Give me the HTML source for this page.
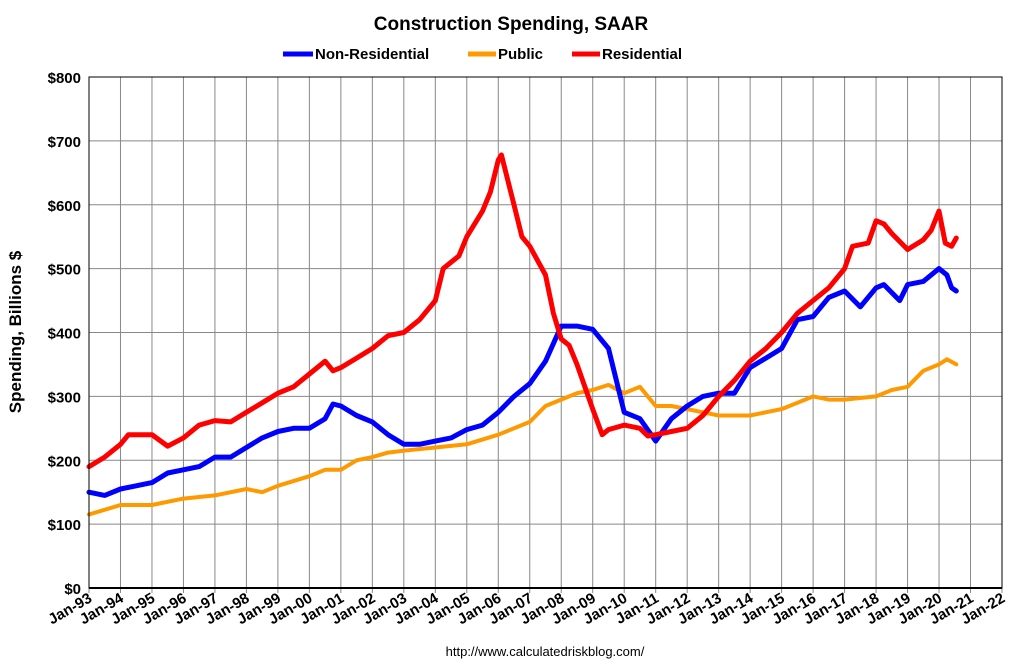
<!DOCTYPE html>
<html><head><meta charset="utf-8"><style>
body{margin:0;background:#fff;width:1022px;height:665px;overflow:hidden;font-family:"Liberation Sans",Arial,sans-serif}
</style></head><body>
<svg id="chart" width="1022" height="665" xmlns="http://www.w3.org/2000/svg" font-family="Liberation Sans, Arial, sans-serif">
<text x="511" y="30" text-anchor="middle" font-size="19" font-weight="bold">Construction Spending, SAAR</text>
<g font-size="15" font-weight="bold">
<g><line x1="283" y1="54" x2="313" y2="54" stroke="#0000ff" stroke-width="5"/><text x="315" y="59">Non-Residential</text></g>
<g><line x1="468" y1="54" x2="496" y2="54" stroke="#ff9900" stroke-width="5"/><text x="498" y="59">Public</text></g>
<g><line x1="572" y1="54" x2="600" y2="54" stroke="#ff0000" stroke-width="5"/><text x="602" y="59">Residential</text></g>
</g>
<text transform="translate(21,332) rotate(-90)" text-anchor="middle" font-size="17" font-weight="bold">Spending, Billions $</text>
<text x="545" y="656" text-anchor="middle" font-size="13">http://www.calculatedriskblog.com/</text>
<g id="grid"></g><g id="series"></g><g id="axes"></g>
</svg>
<script>
const yTicks=[0,100,200,300,400,500,600,700,800];
const xYears=[];for(let y=1993;y<=2022;y++)xYears.push(y);
const resX=[1993,1993.5,1994,1994.25,1994.5,1995,1995.5,1996,1996.5,1997,1997.5,1998,1998.5,1999,1999.5,2000,2000.5,2000.75,2001,2001.5,2002,2002.5,2003,2003.5,2004,2004.25,2004.75,2005,2005.5,2005.75,2006,2006.1,2006.5,2006.75,2007,2007.5,2007.75,2008,2008.25,2008.5,2009,2009.3,2009.5,2010,2010.5,2010.75,2011,2011.5,2012,2012.5,2013,2013.5,2014,2014.5,2015,2015.5,2016,2016.5,2017,2017.25,2017.75,2018,2018.25,2018.5,2019,2019.5,2019.75,2020,2020.2,2020.4,2020.55];
const resY=[190,205,225,240,240,240,222,235,255,262,260,275,290,305,315,335,355,340,345,360,375,395,400,420,450,500,520,550,590,620,670,678,600,550,535,490,430,390,380,350,280,240,248,255,250,238,240,245,250,270,300,325,355,375,400,430,450,470,500,535,540,575,570,555,530,545,560,590,540,535,548];
const nonX=[1993,1993.5,1994,1994.5,1995,1995.5,1996,1996.5,1997,1997.5,1998,1998.5,1999,1999.5,2000,2000.5,2000.75,2001,2001.5,2002,2002.5,2003,2003.5,2004,2004.5,2005,2005.5,2006,2006.5,2007,2007.5,2008,2008.5,2009,2009.5,2010,2010.5,2011,2011.5,2012,2012.5,2013,2013.5,2014,2014.5,2015,2015.5,2016,2016.5,2017,2017.5,2018,2018.25,2018.75,2019,2019.5,2020,2020.25,2020.4,2020.55];
const nonY=[150,145,155,160,165,180,185,190,205,205,220,235,245,250,250,265,288,285,270,260,240,225,225,230,235,248,255,275,300,320,355,410,410,405,375,275,265,230,265,285,300,305,305,345,360,375,420,425,455,465,440,470,475,450,475,480,500,490,470,465];
const pubX=[1993,1994,1995,1996,1997,1998,1998.5,1999,2000,2000.5,2001,2001.5,2002,2002.5,2003,2004,2005,2006,2007,2007.5,2008,2008.5,2009,2009.5,2010,2010.5,2011,2011.5,2012,2012.5,2013,2014,2015,2015.5,2016,2016.5,2017,2018,2018.5,2019,2019.5,2020,2020.25,2020.55];
const pubY=[115,130,130,140,145,155,150,160,175,185,185,200,205,212,215,220,225,240,260,285,295,305,310,318,305,315,285,285,280,275,270,270,280,290,300,295,295,300,310,315,340,350,358,350];
const X0=89,X1=1002,Y0=588,Y1=77;
const xs=v=>X0+(v-1993)*(X1-X0)/29;
const ys=v=>Y0-v*(Y0-Y1)/800;
const NS="http://www.w3.org/2000/svg";
function mk(tag,attrs,parent){const e=document.createElementNS(NS,tag);for(const k in attrs)e.setAttribute(k,attrs[k]);parent.appendChild(e);return e;}
const grid=document.getElementById('grid'),axes=document.getElementById('axes'),ser=document.getElementById('series');
yTicks.forEach(t=>{
 const l=mk('line',{x1:X0,x2:X1,y1:ys(t),y2:ys(t),stroke:'#888','stroke-width':1},grid);
 
 
 const tx=mk('text',{x:X0-8,y:ys(t)+6,'text-anchor':'end','font-size':15,'font-weight':'bold'},axes);
 tx.textContent='$'+t;
 
 
});
xYears.forEach(yr=>{
 const x=xs(yr);
 const l=mk('line',{x1:x,x2:x,y1:Y1,y2:Y0+5,stroke:'#888','stroke-width':1},grid);
 
 
 const tx=mk('text',{transform:`translate(${x+4},${Y0+13}) rotate(-30)`,'text-anchor':'end','font-size':15,'font-weight':'bold'},axes);
 tx.textContent='Jan-'+String(yr%100).padStart(2,'0');
 
 
});
const frame=mk('rect',{x:X0,y:Y1,width:X1-X0,height:Y0-Y1,fill:'none',stroke:'#000','stroke-width':1},axes);


const bl=mk('line',{x1:X0,x2:X1,y1:Y0,y2:Y0,stroke:'#000','stroke-width':2},axes);


function line(xa,ya,color,name){
 const d=xa.map((v,i)=>(i?'L':'M')+xs(v).toFixed(1)+','+ys(ya[i]).toFixed(1)).join(' ');
 const p=mk('path',{d:d,fill:'none',stroke:color,'stroke-width':color=='#ff9900'?4:5,'stroke-linejoin':'round','stroke-linecap':'round'},ser);
 
 
}
line(pubX,pubY,'#ff9900','public-line');
line(nonX,nonY,'#0000ff','non-residential-line');
line(resX,resY,'#ff0000','residential-line');
</script>
</body></html>
